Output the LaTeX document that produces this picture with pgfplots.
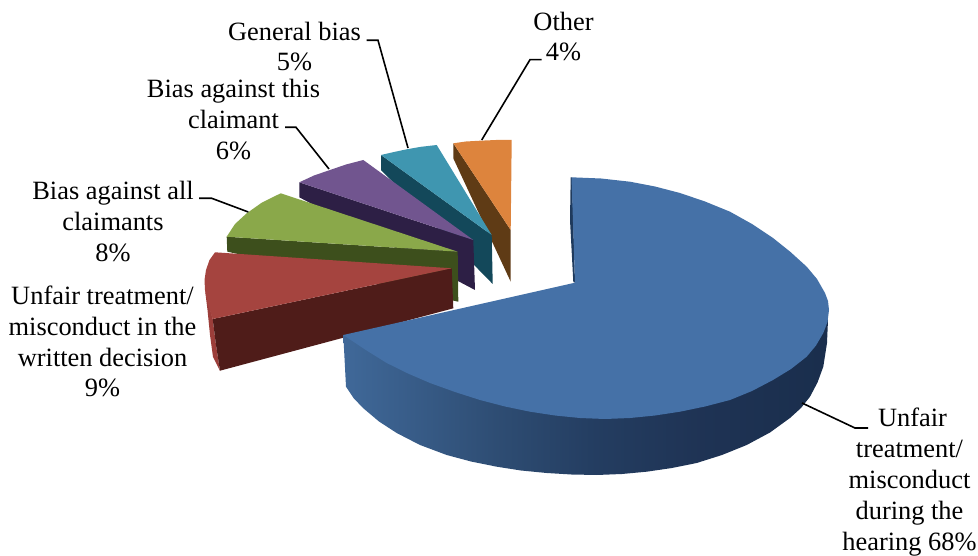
\documentclass[border=0pt]{standalone}
\usepackage{fontspec}
\setmainfont{Liberation Serif}
\usepackage{pgfplots}
\pgfplotsset{compat=1.18}

\definecolor{bluetop}{HTML}{4571A7}
\definecolor{blueinner}{HTML}{1F3A5C}
\definecolor{redtop}{HTML}{A5443F}
\definecolor{redrim}{HTML}{9C3E3A}
\definecolor{redside}{HTML}{4F1C19}
\definecolor{greentop}{HTML}{8AA84A}
\definecolor{greenside}{HTML}{3D4F1C}
\definecolor{purpletop}{HTML}{71558F}
\definecolor{purpleside}{HTML}{2D1F45}
\definecolor{tealtop}{HTML}{3F96B0}
\definecolor{tealside}{HTML}{13485A}
\definecolor{orangetop}{HTML}{DD843D}
\definecolor{orangeside}{HTML}{5F3B15}

% rim of the big slice, light on the left, dark on the right (bbox maps to 25-75bp)
\pgfdeclarehorizontalshading{bluerim}{100bp}{
  rgb(0bp)=(0.25,0.41,0.60);
  rgb(25bp)=(0.25,0.41,0.60);
  rgb(41bp)=(0.18,0.30,0.45);
  rgb(51bp)=(0.14,0.24,0.38);
  rgb(62bp)=(0.12,0.20,0.33);
  rgb(75bp)=(0.10,0.18,0.30);
  rgb(100bp)=(0.10,0.18,0.30)}

\tikzset{
  lab/.style={font=\fontsize{26.4}{30.8}\selectfont, align=center, inner sep=0pt},
  face/.style={draw=none, fill=#1},
  leader/.style={black, line width=1.6pt},
}

\begin{document}
\begin{tikzpicture}
\begin{axis}[
  scale only axis,
  width=978pt, height=556pt,
  xmin=0, xmax=978, ymin=0, ymax=556,
  y dir=reverse,
  hide axis,
  clip=false,
]
\path (axis cs:0,0) rectangle (axis cs:978,556);

% Other 4%
\addplot[face=orangeside] coordinates {(453.3,143.3)(510.7,230)(510.7,281.7)(453.3,158.3)};
\addplot[face=orangetop] coordinates {(453.3,143.3)(466,141.5)(480,140.7)(496,140)(511.7,140)(510.7,230)};

% General bias 5%
\addplot[face=tealside] coordinates {(381,155)(491.7,235)(492.7,284)(381,170)};
\addplot[face=tealtop] coordinates {(381,155)(394,152)(406.7,149.3)(421,146.8)(436.7,145)(491.7,235)};

% Bias against this claimant 6%
\addplot[face=purpleside] coordinates {(299.3,182.3)(473.3,240)(475,290)(299.3,197.3)};
\addplot[face=purpletop] coordinates {(299.3,182.3)(314,175.5)(330,170)(346,164.5)(363.3,160)(473.3,240)};

% Bias against all claimants 8%
\addplot[face=greenside] coordinates {(226.7,236.7)(457.7,251.7)(458.3,301.7)(227.3,251.7)};
\addplot[face=greentop] coordinates {(226.7,236.7)(235,224)(246.7,213.3)(262,202.5)(280.7,193.3)(457.7,251.7)};

% Unfair treatment/misconduct in the written decision 9%
\addplot[face=redrim] coordinates {(205,290)(207.5,310)(210,335)(213,357)(220,371)(216,345)(212.7,319)};
\addplot[face=redside] coordinates {(212.7,319)(451.7,268.3)(453.3,308.3)(220,370.7)(216,345)};
\addplot[face=redtop] coordinates {(215,252.3)(209.5,260)(206,270)(204.5,280)(205,290)(207.5,303)(212.7,319)(451.7,268.3)};

% Unfair treatment/misconduct during the hearing 68%
\addplot[draw=none, shading=bluerim] coordinates {
  (343.3,335)(346,386.7)(353.5,398)(363,408)(379,421.5)(396.7,433)(420,445)(446.7,455)(471,461.5)(496.7,466.7)
  (521,470.5)(546.7,473)(571.5,474.5)(596.7,475)(622,474)(646.7,471.7)(672,468)(696.7,463)(722,455)(746.7,445)
  (770,432.5)(790,418)(801,408)(810,396.7)(817.5,382.5)(823.3,366.7)(827,343)(828,320)(730,340)};
\addplot[face=blueinner] coordinates {(570.7,177.3)(570,220)(573.3,282)(575,282.7)(572,177.3)};
\addplot[face=bluetop] coordinates {
  (571.5,177.3)(601,178.5)(630,181.7)(655,186.5)(680,193)(705,201.5)(730,211.7)(752,224)(773,238)(790.5,252)
  (806.7,266.7)(817,279)(825,293)(828,301)(829,310)(827.5,322)(823.3,333)(816,345.5)(806.7,356.7)(791,369)
  (773,380)(752,391)(730,400)(705,406.5)(680,411.7)(655,415.5)(630,418)(605,419)(580,418)(555,415.5)
  (530,411.7)(505,406.5)(480,400)(455,392)(430,383)(408,373.5)(386.7,363)(365,349.5)(343.3,335)(575,282.7)};

% leader lines
\addplot[leader] coordinates {(366.7,40.3)(378,40.3)(408,148)};
\addplot[leader] coordinates {(541.7,59.7)(530,59.7)(481.7,140)};
\addplot[leader] coordinates {(285,127.3)(296,127.3)(329,169)};
\addplot[leader] coordinates {(199,198.3)(211.7,198.3)(248.3,212)};
\addplot[leader] coordinates {(802,403)(855,428)(868,428)};

% labels
\node[lab] at (axis cs:294.5,46.5) {General bias\\5\%};
\node[lab] at (axis cs:563.5,36.5) {Other\\4\%};
\node[lab] at (axis cs:233.5,119.5) {Bias against this\\claimant\\6\%};
\node[lab] at (axis cs:113,221.5) {Bias against all\\claimants\\8\%};
\node[lab] at (axis cs:102.5,341.5) {Unfair treatment/\\misconduct in the\\written decision\\9\%};
\node[lab] at (axis cs:909.5,482) {\hspace*{6pt}Unfair\\treatment/\\misconduct\\during the\\hearing 68\%};
\end{axis}
\end{tikzpicture}
\end{document}
